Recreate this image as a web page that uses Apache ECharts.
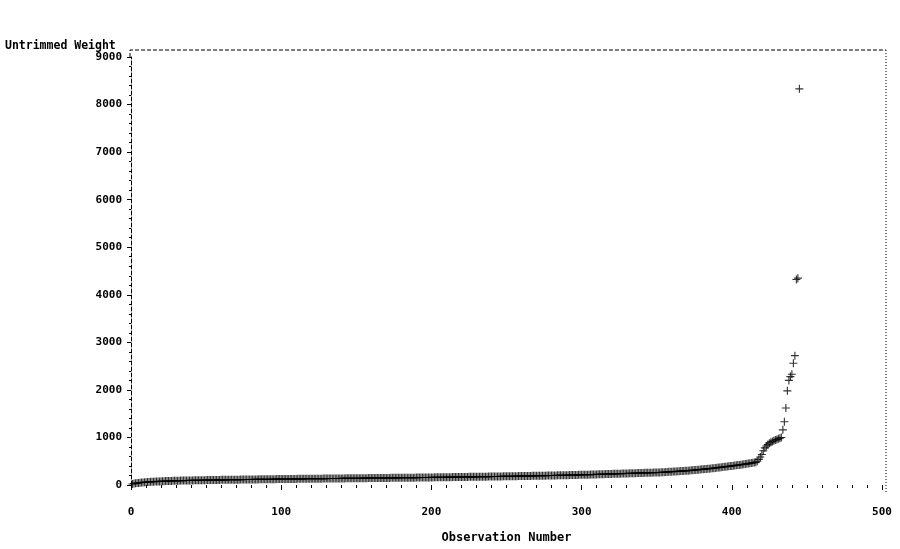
<!DOCTYPE html>
<html>
<head>
<meta charset="utf-8">
<script src="https://cdn.jsdelivr.net/npm/echarts@6/dist/echarts.min.js"></script>
<style>
html,body{margin:0;padding:0;background:#ffffff;}
#chart{width:900px;height:549px;}
</style>
</head>
<body>
<div id="chart"></div>
<script>
// Sorted untrimmed weights, one per observation (observation number = position + 1)
const weights = [
22,30,35,40,44,48,52,55,58,60,
62,64,66,68,70,72,73,75,76,78,
79,80,82,83,84,85,86,87,88,89,
90,91,92,92,93,94,95,95,96,97,
97,98,99,99,100,100,101,102,102,103,
103,104,104,105,105,106,106,107,107,108,
108,109,109,110,110,111,111,112,112,113,
113,113,114,114,115,115,116,116,116,117,
117,118,118,118,119,119,120,120,120,121,
121,122,122,122,123,123,124,124,124,125,
125,125,126,126,127,127,127,128,128,128,
129,129,129,130,130,131,131,131,132,132,
132,133,133,133,134,134,134,135,135,135,
136,136,136,137,137,137,138,138,138,139,
139,139,140,140,140,141,141,141,142,142,
142,143,143,143,144,144,144,145,145,145,
146,146,146,147,147,147,148,148,148,149,
149,149,150,150,150,151,151,151,152,152,
152,153,153,154,154,154,155,155,155,156,
156,157,157,157,158,158,159,159,159,160,
160,161,161,162,162,162,163,163,164,164,
165,165,165,166,166,167,167,168,168,168,
169,169,170,170,171,171,172,172,172,173,
173,174,174,175,175,176,176,177,177,178,
178,179,179,180,180,181,181,182,182,183,
183,184,184,185,185,186,186,187,187,188,
189,189,190,190,191,191,192,193,193,194,
194,195,196,196,197,197,198,199,199,200,
201,201,202,203,203,204,205,205,206,207,
207,208,209,210,210,211,212,213,213,214,
215,216,217,217,218,219,220,221,222,223,
224,225,226,227,228,229,230,231,232,233,
234,235,236,237,238,239,240,241,242,243,
244,245,246,247,248,249,250,251,252,253,
254,255,256,257,258,259,260,261,261,262,
263,264,266,268,270,272,274,276,278,280,
282,284,286,288,290,292,294,296,298,300,
302,305,308,311,314,317,320,323,326,329,
332,335,338,341,344,347,350,354,358,362,
366,370,374,378,382,386,390,394,398,402,
406,410,414,418,422,426,430,435,440,445,
450,455,460,466,472,480,500,540,590,640,
720,780,820,850,880,900,915,930,945,955,
970,985,1000,1160,1330,1620,1980,2200,2280,2330,
2560,2720,4320,4350,8330
];
const yTicks = [0,1000,2000,3000,4000,5000,6000,7000,8000,9000];
const xTicks = [0,100,200,300,400,500];
const yTitle = 'Untrimmed Weight';
const xTitle = 'Observation Number';

const points = weights.map((w, i) => [i + 1, w]);
const FONT = 'DejaVu Sans Mono';
const plus = 'path://M-0.14,-1H0.14V-0.14H1V0.14H0.14V1H-0.14V0.14H-1V-0.14H-0.14Z';

const chart = echarts.init(document.getElementById('chart'), null, {renderer: 'canvas'});
chart.setOption({
  animation: false,
  backgroundColor: '#ffffff',
  title: {
    text: yTitle, left: 5, top: 40, padding: 0,
    textStyle: {fontFamily: FONT, fontSize: 11.5, fontWeight: 'bold', color: '#000'}
  },
  grid: {left: 131, right: 18, top: 57, bottom: 64},
  xAxis: {
    type: 'value', min: xTicks[0], max: xTicks[xTicks.length - 1], interval: 100,
    offset: 7,
    axisLine: {show: false},
    axisTick: {show: true, length: 5, lineStyle: {color: '#000', width: 1}},
    minorTick: {show: true, splitNumber: 10, length: 3, lineStyle: {color: '#000', width: 1}},
    splitLine: {show: false},
    axisLabel: {margin: 15, fontFamily: FONT, fontSize: 11, fontWeight: 'bold', color: '#000',
                formatter: v => String(v)},
    name: xTitle, nameLocation: 'middle', nameGap: 40,
    nameTextStyle: {fontFamily: FONT, fontSize: 12, fontWeight: 'bold', color: '#000'}
  },
  yAxis: {
    type: 'value', min: yTicks[0], max: yTicks[yTicks.length - 1], interval: 1000,
    axisLine: {show: true, onZero: false, lineStyle: {color: '#000', width: 1, type: [4, 2]}},
    axisTick: {show: true, length: 4, lineStyle: {color: '#000', width: 1}},
    minorTick: {show: true, splitNumber: 5, length: 2, lineStyle: {color: '#000', width: 1}},
    splitLine: {show: false},
    axisLabel: {margin: 9, fontFamily: FONT, fontSize: 11, fontWeight: 'bold', color: '#000',
                formatter: v => String(v)}
  },
  graphic: [
    {type: 'polyline', silent: true, shape: {points: [[130, 57], [130, 50], [886, 50]]},
     style: {stroke: '#000', lineWidth: 1, lineDash: [4, 2], fill: null}},
    {type: 'line', silent: true, shape: {x1: 886, y1: 50, x2: 886, y2: 494},
     style: {stroke: '#000', lineWidth: 1, lineDash: [1, 2]}}
  ],
  series: [{
    type: 'scatter',
    data: points,
    symbol: plus,
    symbolSize: 8,
    itemStyle: {color: '#000'},
    emphasis: {disabled: true}
  }]
});
</script>
</body>
</html>
